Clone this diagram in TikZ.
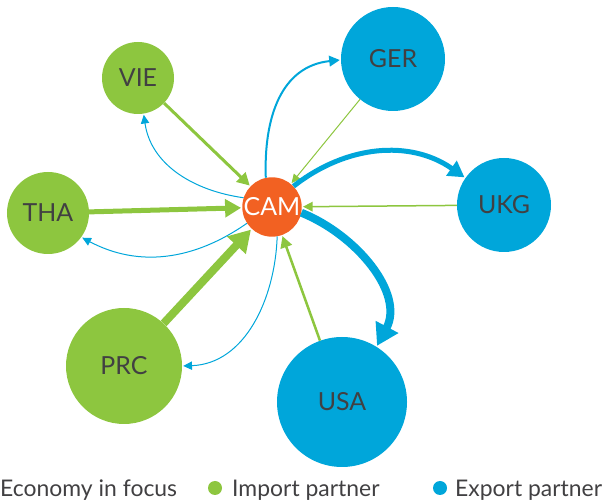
\documentclass[tikz,border=0pt]{standalone}
\usepackage{fontspec}
\setmainfont{Lato}
\usetikzlibrary{arrows.meta, positioning}
\definecolor{camorange}{HTML}{F26122}
\definecolor{impgreen}{HTML}{8DC63F}
\definecolor{expblue}{HTML}{00A6DA}
\definecolor{labelgray}{HTML}{414042}

\begin{document}
\begin{tikzpicture}[
    x=1bp, y=1bp,
    econ/.style={circle, inner sep=0pt, fill=#1, text=labelgray, font=\fontsize{25}{28}\selectfont},
    focus/.style={econ=camorange, text=white, minimum size=56bp},
    imppart/.style={econ=impgreen},
    exppart/.style={econ=expblue},
    flow/.style={line width=#1, -{Triangle[length=7bp 1.8, width=6bp 2.3]}, shorten >=1bp},
    impflow/.style={flow=#1, draw=impgreen},
    expflow/.style={flow=#1, draw=expblue},
    dot/.style={circle, inner sep=0pt, minimum size=14bp},
    legtext/.style={anchor=base west, inner sep=0pt, text=labelgray, font=\fontsize{23}{26}\selectfont}
]
\useasboundingbox (0,0) rectangle (603,504);
% economies
\node[focus] (cam) at (272,297) {CAM};
\node[imppart, minimum size=72bp] (vie) at (138,426) {VIE};
\node[imppart, minimum size=82bp] (tha) at (48,291) {THA};
\node[imppart, minimum size=116bp] (prc) at (124,138) {PRC};
\node[exppart, minimum size=130bp] (usa) at (342,102) {USA};
\node[exppart, minimum size=104bp] (ger) at (393,445) {GER};
\node[exppart, minimum size=94bp] (ukg) at (504,299) {UKG};
% imports into CAM
\draw[impflow=3bp] (vie) -- (cam);
\draw[impflow=5bp] (tha) -- (cam);
\draw[impflow=8bp] (prc) -- (cam);
\draw[impflow=2.5bp] (usa) -- (cam);
\draw[impflow=1.5bp] (ukg) -- (cam);
\draw[impflow=1bp] (ger) -- (cam);
% exports from CAM
\draw[expflow=1bp] (cam.162) to[out=172, in=-82] (vie.-81);
\draw[expflow=1bp] (cam.213) to[out=215, in=-28] (tha.-36);
\draw[expflow=1bp] (cam.-80) to[out=-92, in=2] (prc.0);
\draw[expflow=2bp] (cam.102) to[out=92, in=186, looseness=1.1] (ger.181);
\draw[expflow=5bp] (cam.44) to[out=38, in=145] (ukg.145);
\draw[expflow=8bp] (cam.-11) to[out=-22, in=62] (usa.58);
% legend
\node[legtext] (lgfocus) at (0,7) {Economy in focus};
\node[dot, fill=impgreen] (lgimp) at (215,16) {};
\node[legtext] (lgimptext) at (232,7) {Import partner};
\node[dot, fill=expblue] (lgexp) at (440,16) {};
\node[legtext] (lgexptext) at (455,7) {Export partner};
\end{tikzpicture}
\end{document}
